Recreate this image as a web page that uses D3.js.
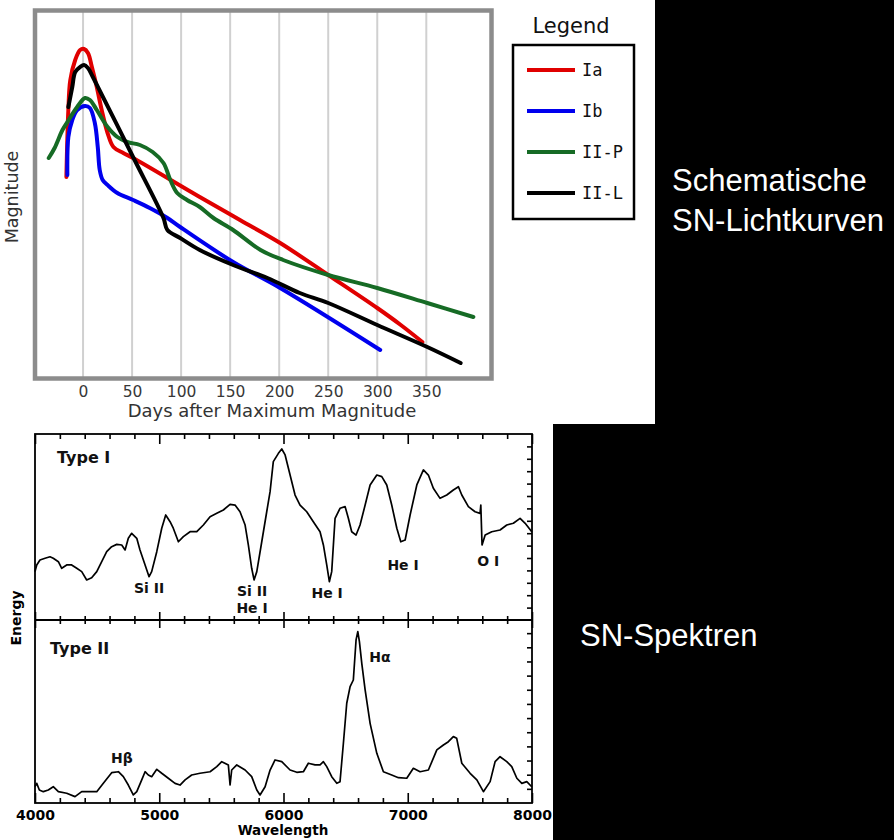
<!DOCTYPE html>
<html>
<head>
<meta charset="utf-8">
<script src="https://cdn.jsdelivr.net/npm/d3@7"></script>
<style>
  body { margin: 0; background: #000; }
  svg { display: block; }
</style>
</head>
<body>
<svg id="chart" width="894" height="840"></svg>
<script>
/*************************** DATA ***************************/
// light curves: [days after maximum, relative magnitude (larger = fainter)]
let curveIa = [[-17,16.7],[-15,10.0],[-13,7.0],[-8,5.0],[-3,4.0],[1,3.9],[5,4.3],[9,5.7],[14,7.7],[19,10.0],[25,12.3],[31,13.7],[41,14.3],[51,14.8],[119,18.7],[160,21.0],[201,23.3],[250,26.5],[300,29.8],[324,31.5],[346,33.2]];
let curveIb = [[-16,16.5],[-15,12.7],[-11,11.0],[-6,10.0],[2,9.6],[7,9.8],[12,11.3],[15,13.7],[17,16.0],[20,17.0],[25,17.5],[35,18.3],[51,19.0],[68,19.8],[86,20.8],[99,21.7],[153,25.2],[201,27.8],[303,34.0]];
let curveIIP = [[-35,14.8],[-29,13.8],[-21,12.0],[-16,11.2],[-6,9.7],[2,8.8],[7,9.0],[14,10.0],[25,11.7],[35,12.7],[45,13.2],[58,13.5],[71,14.2],[82,15.3],[89,17.0],[96,18.3],[106,19.0],[119,19.7],[133,20.8],[153,22.0],[181,24.0],[204,25.0],[250,26.5],[300,27.8],[351,29.3],[398,30.7]];
let curveIIL = [[-15,9.7],[-11,7.7],[-8,6.2],[-3,5.7],[1,5.5],[5,5.8],[10,6.7],[51,14.7],[82,20.8],[86,22.0],[99,22.8],[119,24.0],[153,25.5],[188,26.8],[221,28.3],[250,29.3],[300,31.5],[351,33.7],[385,35.3]];
let lcNames = ['Ia', 'Ib', 'II-P', 'II-L'];
let lcColors = ['#e00000', '#0000ee', '#166b25', '#000000'];
let dayTicks = [0, 50, 100, 150, 200, 250, 300, 350];

// spectra: [wavelength (Angstrom), energy (arbitrary)]
let specTypeI = [[4000,3.90],[4014,4.44],[4040,4.84],[4081,4.98],[4121,5.10],[4147,4.98],[4188,4.70],[4215,4.17],[4255,4.44],[4295,4.44],[4336,4.17],[4376,3.90],[4416,3.23],[4456,3.41],[4497,3.90],[4537,4.70],[4577,5.51],[4617,5.91],[4658,6.10],[4698,6.05],[4725,5.65],[4751,6.59],[4778,6.99],[4819,6.59],[4845,5.65],[4886,4.44],[4918,3.49],[4939,3.90],[4980,5.51],[5020,7.40],[5052,8.47],[5087,7.93],[5113,7.40],[5154,6.31],[5194,6.72],[5248,7.12],[5302,7.12],[5355,7.66],[5409,8.33],[5463,8.60],[5516,8.87],[5570,9.33],[5610,9.27],[5650,8.73],[5691,7.66],[5717,6.05],[5744,4.17],[5763,3.23],[5785,3.90],[5825,6.31],[5865,8.73],[5892,10.35],[5918,12.77],[5959,13.44],[5986,13.79],[6013,13.31],[6053,11.69],[6093,10.08],[6133,9.27],[6187,8.73],[6240,7.93],[6294,7.12],[6321,6.05],[6348,4.44],[6369,3.09],[6388,3.90],[6415,8.20],[6455,9.01],[6496,9.14],[6522,8.20],[6549,7.12],[6584,6.85],[6616,7.66],[6657,9.27],[6697,10.89],[6751,11.69],[6791,11.56],[6831,10.89],[6871,9.27],[6912,7.40],[6944,6.31],[6979,6.45],[7019,8.47],[7073,10.89],[7126,12.10],[7166,11.69],[7206,10.62],[7260,9.81],[7314,10.08],[7367,10.48],[7408,10.75],[7435,10.08],[7488,9.14],[7542,8.73],[7582,8.60],[7588,9.27],[7598,6.05],[7623,6.85],[7676,7.12],[7743,7.26],[7797,7.66],[7850,7.80],[7904,8.20],[7945,7.80],[7998,7.12]];
let specTypeII = [[4000,1.15],[4014,1.39],[4035,0.92],[4067,0.80],[4107,0.92],[4147,1.15],[4188,0.80],[4255,0.69],[4322,0.45],[4376,0.80],[4429,0.80],[4497,0.80],[4550,1.39],[4617,2.14],[4671,2.21],[4711,1.86],[4751,1.27],[4791,0.57],[4819,0.80],[4859,1.63],[4886,2.21],[4912,1.98],[4939,1.86],[4980,2.38],[5020,2.10],[5073,1.75],[5127,1.39],[5167,1.27],[5208,1.63],[5261,1.98],[5328,2.10],[5409,2.21],[5463,2.57],[5503,2.92],[5556,2.69],[5570,1.27],[5583,2.33],[5624,2.69],[5691,2.33],[5744,1.86],[5785,0.92],[5811,0.57],[5852,1.15],[5892,2.33],[5932,3.04],[5986,2.92],[6053,2.33],[6107,2.17],[6160,2.21],[6200,2.81],[6254,2.69],[6294,2.69],[6321,2.92],[6348,2.57],[6388,1.86],[6429,1.39],[6455,1.51],[6482,4.22],[6509,7.05],[6536,8.22],[6562,8.69],[6584,11.52],[6598,12.11],[6611,11.40],[6630,9.87],[6657,7.99],[6697,5.63],[6751,3.51],[6804,2.21],[6871,1.98],[6925,1.79],[6992,1.75],[7045,2.45],[7099,2.21],[7166,2.33],[7234,3.75],[7287,4.10],[7327,4.33],[7367,4.69],[7394,4.57],[7435,2.81],[7502,2.10],[7556,1.63],[7609,0.80],[7663,1.51],[7703,2.92],[7743,3.27],[7797,2.92],[7837,2.57],[7878,1.75],[7918,1.39],[7958,1.51],[7998,1.15]];
let waveTicks = [4000, 5000, 6000, 7000, 8000];
let labelsTypeI = [['Si II', 4918, 2.18], ['Si II', 5747, 1.94], ['He I', 5747, 0.56], ['He I', 6351, 1.77], ['He I', 6962, 4.03], ['O I', 7647, 4.35]];
let labelsTypeII = [['H\u03b2', 4700, 2.83], ['H\u03b1', 6777, 9.96]];

let svg = d3.select('#chart');

// backgrounds
svg.append('rect').attr('width', 894).attr('height', 840).attr('fill', '#000');
svg.append('rect').attr('x', 0).attr('y', 0).attr('width', 655).attr('height', 424).attr('fill', '#fff');
svg.append('rect').attr('x', 0).attr('y', 424).attr('width', 553).attr('height', 416).attr('fill', '#fff');

/*********************** LIGHT CURVES ***********************/
let xDays = d3.scaleLinear().domain([-49, 417]).range([35, 492]);
let yMag = d3.scaleLinear().domain([0, 36.85]).range([10, 378.5]);

// grid
svg.append('g').selectAll('line').data(dayTicks).join('line')
    .attr('x1', d => xDays(d)).attr('x2', d => xDays(d))
    .attr('y1', 12).attr('y2', 377)
    .attr('stroke', '#d0d0d0').attr('stroke-width', 2);

let lcLine = d3.line()
    .x(d => xDays(d[0]))
    .y(d => yMag(d[1]))
    .curve(d3.curveCatmullRom.alpha(0.5));

let curves = [curveIa, curveIb, curveIIP, curveIIL];
svg.append('g').selectAll('path').data(curves).join('path')
    .attr('d', lcLine)
    .attr('fill', 'none')
    .attr('stroke', (d, i) => lcColors[i])
    .attr('stroke-width', 4)
    .attr('stroke-linejoin', 'round')
    .attr('stroke-linecap', 'round');

// frame
svg.append('rect').attr('x', 35).attr('y', 10.5).attr('width', 456.5).attr('height', 368)
    .attr('fill', 'none').attr('stroke', '#8c8c8c').attr('stroke-width', 4.5);

// day labels
let dayAxis = svg.append('g').attr('transform', 'translate(0,378.5)')
    .call(d3.axisBottom(xDays).tickValues(dayTicks).tickSize(0).tickPadding(7));
dayAxis.select('.domain').remove();
dayAxis.selectAll('text').attr('font-family', 'DejaVu Sans').attr('font-size', 15.5).attr('fill', '#383838');

svg.append('text').attr('x', 272).attr('y', 417).attr('text-anchor', 'middle')
    .attr('font-family', 'DejaVu Sans').attr('font-size', 18).attr('fill', '#333')
    .text('Days after Maximum Magnitude');
svg.append('text').attr('transform', 'translate(18,197) rotate(-90)').attr('text-anchor', 'middle')
    .attr('font-family', 'DejaVu Sans').attr('font-size', 17.5).attr('fill', '#333')
    .text('Magnitude');

// legend
svg.append('text').attr('x', 571).attr('y', 33).attr('text-anchor', 'middle')
    .attr('font-family', 'DejaVu Sans').attr('font-size', 21).attr('fill', '#111')
    .text('Legend');
svg.append('rect').attr('x', 513).attr('y', 45).attr('width', 121).attr('height', 174)
    .attr('fill', 'none').attr('stroke', '#000').attr('stroke-width', 2.5);
let legendRows = svg.append('g').selectAll('g').data(lcNames).join('g')
    .attr('transform', (d, i) => `translate(0,${70 + i * 41})`);
legendRows.append('line').attr('x1', 527).attr('x2', 575)
    .attr('stroke', (d, i) => lcColors[i]).attr('stroke-width', 4);
legendRows.append('text').attr('x', 582).attr('y', 6)
    .attr('font-family', 'DejaVu Sans Mono').attr('font-size', 17).attr('fill', '#111')
    .text(d => d);

// captions on black
let captions = svg.append('g').attr('font-family', 'Liberation Sans, Arial').attr('font-size', 31).attr('fill', '#fff');
captions.append('text').attr('x', 672).attr('y', 191).text('Schematische');
captions.append('text').attr('x', 672).attr('y', 231).text('SN-Lichtkurven');
captions.append('text').attr('x', 580).attr('y', 646).text('SN-Spektren');

/************************* SPECTRA **************************/
let xWave = d3.scaleLinear().domain([4000, 8000]).range([35, 532]);
let yTypeI = d3.scaleLinear().domain([0, 15]).range([620, 434]);
let yTypeII = d3.scaleLinear().domain([0, 13]).range([803, 619]);
let minorWaves = d3.range(4200, 8000, 200).filter(w => w % 1000 !== 0);

function tickAxis(axis, y, values, size) {
    let g = svg.append('g').attr('transform', `translate(0,${y})`)
        .call(axis(xWave).tickValues(values).tickSize(size).tickSizeOuter(0).tickFormat(''));
    g.select('.domain').remove();
    g.selectAll('line').attr('stroke', '#000').attr('stroke-width', 1.6);
}
// top border ticks (inside)
tickAxis(d3.axisBottom, 434, minorWaves, 5);
tickAxis(d3.axisBottom, 434, waveTicks, 10);
// middle divider ticks (crossing)
tickAxis(d3.axisBottom, 620, minorWaves, 4);
tickAxis(d3.axisTop, 620, minorWaves, 4);
tickAxis(d3.axisBottom, 620, waveTicks, 8);
tickAxis(d3.axisTop, 620, waveTicks, 8);
// bottom axis ticks
tickAxis(d3.axisTop, 803, minorWaves, 5);
tickAxis(d3.axisTop, 803, waveTicks, 10);

// right ticks
let rightI = svg.append('g').attr('transform', 'translate(532,0)')
    .call(d3.axisLeft(yTypeI).tickValues(d3.range(1, 15)).tickSize(5).tickSizeOuter(0).tickFormat(''));
let rightII = svg.append('g').attr('transform', 'translate(532,0)')
    .call(d3.axisLeft(yTypeII).tickValues(d3.range(1, 13)).tickSize(5).tickSizeOuter(0).tickFormat(''));
[rightI, rightII].forEach(g => {
    g.select('.domain').remove();
    g.selectAll('line').attr('stroke', '#000').attr('stroke-width', 1.6);
});

// box lines
let box = svg.append('g').attr('stroke', '#000').attr('stroke-width', 1.8).attr('fill', 'none');
box.append('rect').attr('x', xWave(4000)).attr('y', yTypeI(15))
    .attr('width', xWave(8000) - xWave(4000)).attr('height', yTypeII(0) - yTypeI(15));
box.append('line').attr('x1', xWave(4000)).attr('x2', xWave(8000))
    .attr('y1', yTypeI(0)).attr('y2', yTypeI(0));

// wavelength labels
let waveAxis = svg.append('g').attr('transform', 'translate(0,803)')
    .call(d3.axisBottom(xWave).tickValues(waveTicks).tickSize(0).tickPadding(7).tickFormat(d3.format('d')));
waveAxis.select('.domain').remove();
waveAxis.selectAll('text').attr('font-family', 'DejaVu Sans').attr('font-weight', 'bold')
    .attr('font-size', 14).attr('fill', '#000');

svg.append('text').attr('x', 283).attr('y', 835).attr('text-anchor', 'middle')
    .attr('font-family', 'DejaVu Sans').attr('font-weight', 'bold').attr('font-size', 13.5)
    .text('Wavelength');
svg.append('text').attr('transform', 'translate(21,618) rotate(-90)').attr('text-anchor', 'middle')
    .attr('font-family', 'DejaVu Sans').attr('font-weight', 'bold').attr('font-size', 14)
    .text('Energy');

// spectrum traces
let lineI = d3.line().x(d => xWave(d[0])).y(d => yTypeI(d[1]));
let lineII = d3.line().x(d => xWave(d[0])).y(d => yTypeII(d[1]));
svg.append('path').datum(specTypeI).attr('d', lineI)
    .attr('fill', 'none').attr('stroke', '#000').attr('stroke-width', 1.7).attr('stroke-linejoin', 'round');
svg.append('path').datum(specTypeII).attr('d', lineII)
    .attr('fill', 'none').attr('stroke', '#000').attr('stroke-width', 1.7).attr('stroke-linejoin', 'round');

// panel titles and line ids
let annot = svg.append('g').attr('font-family', 'DejaVu Sans').attr('font-weight', 'bold').attr('fill', '#111');
annot.append('text').attr('x', 57).attr('y', 463).attr('font-size', 16).text('Type I');
annot.append('text').attr('x', 50).attr('y', 654).attr('font-size', 16).text('Type II');
annot.selectAll('.lab1').data(labelsTypeI).join('text').attr('class', 'lab1')
    .attr('x', d => xWave(d[1])).attr('y', d => yTypeI(d[2]))
    .attr('text-anchor', 'middle').attr('font-size', 14).text(d => d[0]);
annot.selectAll('.lab2').data(labelsTypeII).join('text').attr('class', 'lab2')
    .attr('x', d => xWave(d[1])).attr('y', d => yTypeII(d[2]))
    .attr('text-anchor', 'middle').attr('font-size', 14).text(d => d[0]);
</script>
</body>
</html>
